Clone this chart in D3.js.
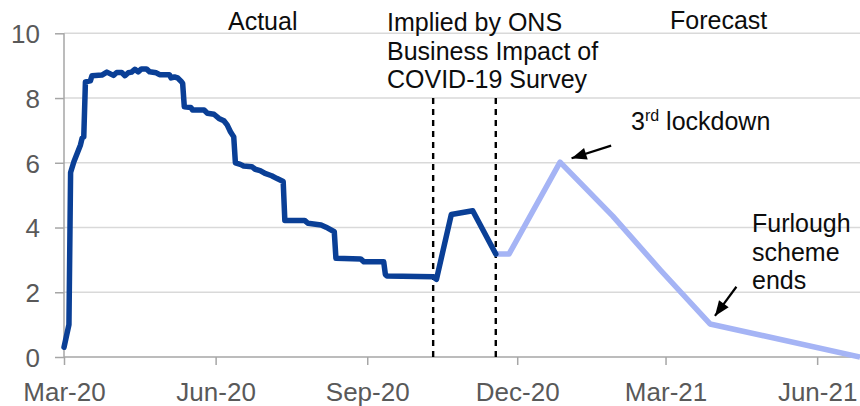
<!DOCTYPE html>
<html>
<head>
<meta charset="utf-8">
<script src="https://cdn.jsdelivr.net/npm/d3@7"></script>
<style>
  html, body { margin: 0; padding: 0; background: #fff; }
  svg { display: block; font-family: "Liberation Sans", Arial, sans-serif; }
</style>
</head>
<body>
<svg id="chart" width="860" height="406"></svg>
<script>
// ---------------- data ----------------
const actualDates = [
  "2020-03-01","2020-03-04","2020-03-05","2020-03-07","2020-03-11","2020-03-12","2020-03-13","2020-03-14",
  "2020-03-17","2020-03-18","2020-03-24","2020-03-27","2020-03-31","2020-04-02","2020-04-05","2020-04-07",
  "2020-04-09","2020-04-11","2020-04-13","2020-04-15","2020-04-17","2020-04-20","2020-04-22","2020-04-26",
  "2020-04-28","2020-05-04","2020-05-05","2020-05-07","2020-05-09","2020-05-11","2020-05-12","2020-05-13",
  "2020-05-17","2020-05-18","2020-05-25","2020-05-27","2020-05-31","2020-06-03","2020-06-06","2020-06-08",
  "2020-06-10","2020-06-12","2020-06-13","2020-06-16","2020-06-18","2020-06-23","2020-06-25","2020-06-28",
  "2020-07-01","2020-07-05","2020-07-08","2020-07-12","2020-07-13","2020-07-25","2020-07-27","2020-08-04",
  "2020-08-07","2020-08-12","2020-08-13","2020-08-28","2020-08-30","2020-09-11","2020-09-12","2020-09-13",
  "2020-10-11","2020-10-13","2020-10-22","2020-11-04","2020-11-18"
];
const actualValues = [
  0.3, 1.0, 5.7, 6.03, 6.55, 6.76, 6.8, 8.5,
  8.53, 8.69, 8.71, 8.8, 8.7, 8.79, 8.79, 8.69,
  8.78, 8.8, 8.89, 8.81, 8.9, 8.9, 8.81, 8.78,
  8.72, 8.72, 8.62, 8.65, 8.62, 8.52, 8.45, 7.73,
  7.71, 7.63, 7.63, 7.53, 7.5, 7.37, 7.3, 7.17,
  6.96, 6.8, 6.0, 5.95, 5.9, 5.88, 5.8, 5.76,
  5.67, 5.6, 5.52, 5.42, 4.22, 4.22, 4.13, 4.08,
  4.01, 3.87, 3.05, 3.03, 2.94, 2.94, 2.55, 2.5,
  2.48, 2.4, 4.4, 4.52, 3.18
];
const forecastDates = ["2020-11-18","2020-11-26","2020-12-27","2021-01-28","2021-02-26","2021-03-28","2021-06-27"];
const forecastValues = [3.18, 3.18, 6.02, 4.35, 2.68, 1.02, 0];

const xTickDates = ["2020-03-01","2020-06-01","2020-09-01","2020-12-01","2021-03-01","2021-06-01"];
const yTickValues = [0, 2, 4, 6, 8, 10];
const xDomain = ["2020-03-01","2021-06-27"];
const dividerDates = ["2020-10-11","2020-11-18"];

// ---------------- setup ----------------
const parse = d3.utcParse("%Y-%m-%d");
const svg = d3.select("#chart");
const W = 860, H = 406;
const mLeft = 64, mRight = 860, mTop = 33.3, mBottom = 357;

const x = d3.scaleUtc().domain(xDomain.map(parse)).range([mLeft, mRight]);
const y = d3.scaleLinear().domain([0, 10]).range([mBottom, mTop]);

svg.append("rect").attr("width", W).attr("height", H).attr("fill", "#fff");

// gridlines
svg.append("g").selectAll("line")
  .data(yTickValues.filter(v => v > 0))
  .join("line")
  .attr("x1", mLeft).attr("x2", mRight)
  .attr("y1", d => y(d)).attr("y2", d => y(d))
  .attr("stroke", "#d9d9d9").attr("stroke-width", 1.4);

// y axis
const yAxis = svg.append("g")
  .attr("transform", `translate(${mLeft},0)`)
  .call(d3.axisLeft(y).tickValues(yTickValues).tickSize(9).tickPadding(15).tickFormat(d3.format("d")));
yAxis.select(".domain").attr("stroke", "#a6a6a6").attr("stroke-width", 1.5)
  .attr("d", `M0,${mTop}V${mBottom}`);
yAxis.selectAll(".tick line").attr("stroke", "#a6a6a6").attr("stroke-width", 1.5);
yAxis.selectAll(".tick text").attr("fill", "#595959").attr("font-size", 26)
  .attr("font-family", "'Liberation Sans', Arial, sans-serif").attr("dy", "0.36em");

// x axis
const xAxis = svg.append("g")
  .attr("transform", `translate(0,${mBottom})`)
  .call(d3.axisBottom(x).tickValues(xTickDates.map(parse)).tickSize(8).tickFormat(d3.utcFormat("%b-%y")));
xAxis.select(".domain").attr("stroke", "#a6a6a6").attr("stroke-width", 1.5)
  .attr("d", `M${mLeft},0H${mRight}`);
xAxis.selectAll(".tick line").attr("stroke", "#a6a6a6").attr("stroke-width", 1.5);
xAxis.selectAll(".tick text").attr("fill", "#595959").attr("font-size", 26)
  .attr("font-family", "'Liberation Sans', Arial, sans-serif")
  .attr("y", 44).attr("dy", 0);

// divider dashed lines
svg.append("g").selectAll("line")
  .data(dividerDates)
  .join("line")
  .attr("x1", d => x(parse(d))).attr("x2", d => x(parse(d)))
  .attr("y1", y(8)).attr("y2", y(0))
  .attr("stroke", "#000").attr("stroke-width", 2.4).attr("stroke-dasharray", "6,5");

// lines
const line = d3.line().x(d => x(d.date)).y(d => y(d.value));
const forecast = forecastDates.map((d, i) => ({ date: parse(d), value: forecastValues[i] }));
const actual = actualDates.map((d, i) => ({ date: parse(d), value: actualValues[i] }));

svg.append("path").datum(forecast).attr("d", line)
  .attr("fill", "none").attr("stroke", "#a5b4f5").attr("stroke-width", 5.5)
  .attr("stroke-linejoin", "round");
svg.append("path").datum(actual).attr("d", line)
  .attr("fill", "none").attr("stroke", "#0a3f96").attr("stroke-width", 5.5)
  .attr("stroke-linejoin", "round").attr("stroke-linecap", "round");

// annotation text
const annFont = "'Liberation Sans', Arial, sans-serif";
function addText(txt, tx, ty) {
  return svg.append("text").attr("x", tx).attr("y", ty).attr("fill", "#0d0d0d")
    .attr("font-size", 25).attr("font-family", annFont).text(txt);
}
addText("Actual", 228, 30);
addText("Implied by ONS", 387, 31);
addText("Business Impact of", 387, 60);
addText("COVID-19 Survey", 387, 88);
addText("Forecast", 670, 29);
const t3 = svg.append("text").attr("x", 631).attr("y", 130).attr("fill", "#0d0d0d")
  .attr("font-size", 25).attr("font-family", annFont);
t3.append("tspan").text("3");
t3.append("tspan").attr("font-size", 16).attr("dy", -9).text("rd");
t3.append("tspan").attr("dy", 9).text(" lockdown");
addText("Furlough", 752, 232);
addText("scheme", 752, 261);
addText("ends", 752, 289);

// arrows
const defs = svg.append("defs");
defs.append("marker").attr("id", "ah").attr("markerUnits", "userSpaceOnUse")
  .attr("viewBox", "-16 -7 18 14").attr("refX", 0).attr("refY", 0)
  .attr("markerWidth", 18).attr("markerHeight", 14).attr("orient", "auto")
  .append("path").attr("d", "M0,0L-15,-6L-15,6Z").attr("fill", "#000");

const arrowFrom = [["2021-01-27", 6.53], ["2021-04-13", 2.17]];
const arrowTo = [["2021-01-03", 6.14], ["2021-03-31", 1.27]];
svg.append("g").selectAll("line")
  .data(arrowFrom.map((f, i) => [f, arrowTo[i]]))
  .join("line")
  .attr("x1", d => x(parse(d[0][0]))).attr("y1", d => y(d[0][1]))
  .attr("x2", d => x(parse(d[1][0]))).attr("y2", d => y(d[1][1]))
  .attr("stroke", "#000").attr("stroke-width", 2.2).attr("marker-end", "url(#ah)");
</script>
</body>
</html>
